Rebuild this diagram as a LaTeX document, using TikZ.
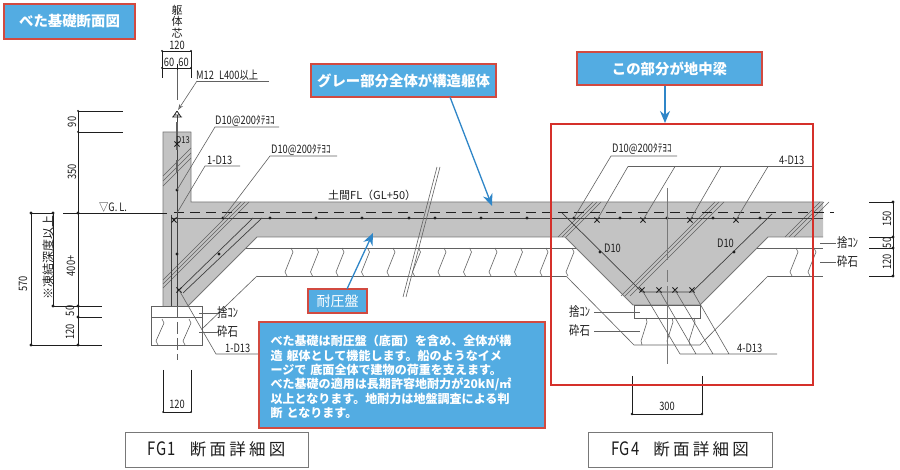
\documentclass[tikz,border=0pt]{standalone}
\usepackage{fontspec}
\setmainfont{Noto Sans CJK JP}
\newfontfamily\dw[FakeStretch=0.8]{Noto Sans CJK JP}
\usetikzlibrary{arrows.meta}
\definecolor{bluefill}{HTML}{53ACE2}
\definecolor{boxred}{HTML}{D24A40}
\definecolor{bigred}{HTML}{D5302A}
\definecolor{arrblue}{HTML}{2F86C8}
\definecolor{ink}{HTML}{1E1E1E}
\definecolor{concrete}{HTML}{C3C3C3}
\tikzset{
  x=1pt,y=-1pt,
  dl/.style={draw=ink,line width=.65pt},
  thin line/.style={draw=ink!70,line width=.6pt},
  outline/.style={draw=ink!60,line width=.85pt},
  rebar/.style={draw=ink!85,line width=.7pt},
  lab/.style={text=ink,inner sep=0pt,font=\dw\fontsize{11.6}{12}\selectfont},
  labs/.style={text=ink,inner sep=0pt,font=\dw\fontsize{13}{13}\selectfont},
  callout/.style={fill=bluefill,draw=boxred,line width=1.3pt,text=white,inner sep=0pt,font=\bfseries\fontsize{14.4}{15}\selectfont},
  titlebox/.style={draw=ink!60,line width=.7pt,fill=white,text=ink,inner sep=0pt,font=\fontsize{16.5}{18}\selectfont},
  bluearrow/.style={draw=arrblue,line width=1.3pt,-{Stealth[length=12pt,width=10pt]}},
}
\newcommand{\dotat}[2]{\fill[ink] (#1,#2) circle (1.6);}
\newcommand{\xmark}[2]{\draw[ink,line width=1pt] (#1-2.6,#2-2.6) -- (#1+2.6,#2+2.6) (#1-2.6,#2+2.6) -- (#1+2.6,#2-2.6);}
\newcommand{\grav}[3]{\draw[thin line] (#1-1,#2) -- (#1+1,#2+4) -- (#1-7,#3-4) -- (#1-5,#3);}
\newcommand{\fgtitle}[1]{{\dw\fontsize{18.5}{18}\selectfont\addfontfeature{LetterSpace=5}#1}\hspace{14pt}{\addfontfeature{LetterSpace=20}断面詳細図}}
\begin{document}
\begin{tikzpicture}
\useasboundingbox (0,0) rectangle (900,470);
\fill[white] (0,0) rectangle (900,470);

% concrete
\fill[concrete] (163,132) -- (191,132) -- (191,202) -- (823,202) -- (823,237) -- (768,237) -- (700,305) -- (633,305) -- (565,237) -- (257,237) -- (188,306) -- (163,306) -- cycle;
\draw[outline] (191,132) -- (191,202) -- (823,202) (823,237) -- (768,237) -- (700,305) -- (633,305) -- (565,237) -- (257,237) -- (188,306) (163,306) -- (163,132) -- (191,132);

% ground lines
\draw[thin line] (246,248) -- (576,248) (757,248) -- (823,248);
\draw[thin line] (257,276) -- (566,276) (768,276) -- (823,276);
\draw[thin line] (257,276) -- (202,329);
\draw[thin line] (566,276) -- (634,345) -- (700,345) -- (768,276);
\draw[thin line] (151,306) rectangle (202,345) (151,317) -- (202,317);
\draw[thin line] (634,305) rectangle (700,318);
\foreach \v in {292,317.5,343,368.5,394,419.5,445,470.5,496,521.5,547,573,797,815}{\grav{\v}{248}{276}}
\grav{163}{319}{345}\grav{190}{319}{345}
\draw[thin line] (646,318) -- (647,322) -- (641,341) -- (642,345) (672,318) -- (673,322) -- (667,341) -- (668,345) (694,318) -- (695,322) -- (689,341) -- (690,345);

% break lines in concrete
\foreach \s in {339,344,349}{\draw[thin line] (163,\s-163) -- (191,\s-191);}
\foreach \s in {443,447,451}{\draw[thin line] (163,\s-163) -- (\s-202,202);}
\foreach \s in {795,799,803}{\draw[thin line] (\s-237,237) -- (\s-202,202);}
\foreach \s in {917,921,926}{\draw[thin line] (\s-296,296) -- (\s-202,202);}
\foreach \s in {1022,1026}{\draw[thin line] (\s-237,237) -- (\s-202,202);}
\draw[thin line] (1031-237,237) -- (829,202);

% reinforcement
\draw[ink,line width=1pt,dash pattern=on 10pt off 6pt] (174,213) -- (834,213);
\draw[rebar] (172,218) -- (823,218);
\draw[rebar] (171,215) -- (171,306);
\draw[rebar] (177,115) -- (177,306);
\draw[ink!70,line width=2pt] (177,122) -- (177,150) (177,160) -- (177,172);
\draw[rebar] (179,290) -- (253,218);
\draw[rebar] (183,293) -- (262,218);
\draw[rebar] (562,213) -- (642,292) -- (692,292) -- (772,214);
\xmark{177}{144}\xmark{174}{220}\xmark{179}{290}
\foreach \v in {597,643,690,736}{\xmark{\v}{220}}
\foreach \v in {642,659,675,692}{\xmark{\v}{290}}
\foreach \v in {223,270,316,362,409,435,481,527,574,620,667,713,760}{\dotat{\v}{218}}
\dotat{177}{190}\dotat{177}{254}\dotat{219}{254}\dotat{600}{252}\dotat{734}{252}

% centre lines
\draw[thin line] (177,70) -- (177,100);
\draw[thin line,dash pattern=on 12pt off 4pt] (177,306) -- (177,360);
\draw[ink!60,line width=.9pt] (667,188) -- (667,260) (667,270) -- (667,282) (667,286) -- (667,364);

% anchor bolt
\draw[ink,line width=.7pt] (172,117) -- (182,117) (174,115) -- (180,115) (177,111) -- (173,117) (177,111) -- (181,117);

% dimensions, FG1
\draw[dl] (162,51) -- (191,51) (162,68) -- (191,68) (162,51) -- (162,78) (191,51) -- (191,78) (177,64) -- (177,70);
\foreach \a/\b in {162/51,191/51,162/68,191/68}{\fill[ink] (\a,\b) circle (1);}
\node[lab] (d120a) at (177,45) {120};
\node[lab] (d60a) at (169,62) {60};
\node[lab] (d60b) at (183.5,62) {60};
\node[lab,align=center,font=\fontsize{11}{11.6}\selectfont] (core) at (177,21.5) {躯\\体\\芯};

\draw[dl] (78,111) -- (123,111) (78,132) -- (123,132) (78,111) -- (78,345);
\draw[dl] (31,213) -- (53,213) (63,213) -- (167,213);
\draw[dl] (31,213) -- (31,345) (53,213) -- (53,306);
\draw[dl] (53,306) -- (102,306) (78,317) -- (102,317) (31,345) -- (102,345);
\foreach \a/\b in {31/213,53/213,78/213,53/306,78/306,78/317,31/345,78/345}{\dotat{\a}{\b}}
\fill[ink] (78,111) circle (1);\fill[ink] (78,132) circle (1);
\node[lab,rotate=90] (d90) at (72,122) {90};
\node[lab,rotate=90] (d350) at (72,172) {350};
\node[lab,rotate=90] (d400) at (71,266) {400+};
\node[lab,rotate=90] (d50) at (70,311) {50};
\node[lab,rotate=90] (d120b) at (70,332) {120};
\node[lab,rotate=90] (d570) at (23,284) {570};
\node[lab,rotate=90,font=\fontsize{12}{12}\selectfont] (frost) at (48,258) {※凍結深度以上};
\node[lab,anchor=west] (gl) at (99,208) {▽G.\hspace{2pt}L.};

\draw[dl] (163,370) -- (163,412) (191,370) -- (191,412) (163,412) -- (191,412);
\fill[ink] (163,412) circle (1);\fill[ink] (191,412) circle (1);
\node[lab] (d120c) at (177,404) {120};

% leaders, FG1
\draw[thin line] (269,81) -- (197,81);
\draw[thin line,-{Stealth[open,length=6pt,width=4pt]}] (197,81) -- (178,110);
\node[lab,anchor=west] (m12) at (196,75.5) {M12\hspace{5pt}L400以上};
\draw[thin line] (279,127) -- (215,127) -- (177,190);
\node[lab,anchor=west] (d10a) at (215,121) {D10@200ﾀﾃﾖｺ};
\draw[thin line] (240,166) -- (205,166) -- (177,213);
\node[lab,anchor=west] (one) at (207,160.5) {1-D13};
\draw[thin line] (337,156) -- (270,156) -- (223,218);
\node[lab,anchor=west] (d10b) at (271,150) {D10@200ﾀﾃﾖｺ};
\node[lab,font=\dw\fontsize{9.5}{10}\selectfont] (d13s) at (183,140) {D13};
\node[lab,anchor=west,font=\fontsize{11}{12}\selectfont] (fl) at (328,195) {土間FL（GL+50）};
\draw[thin line] (199,313) -- (217,313) (199,332) -- (217,332);
\node[labs,anchor=west] (sute) at (217,313) {捨ｺﾝ};
\node[labs,anchor=west] (gravel) at (217,332) {砕石};
\draw[thin line] (179,290) -- (216,354) -- (262,354);
\node[lab,anchor=west] (oneb) at (225,348) {1-D13};

% pavement break
\draw[thin line] (437,167) -- (403,297) (440,167) -- (406,297);

% FG4 leaders
\draw[thin line] (677,156) -- (611,156) -- (574,218);
\node[lab,anchor=west] (d10c) at (612,149) {D10@200ﾀﾃﾖｺ};
\draw[thin line] (812,166.5) -- (628,166.5) -- (597,220) (675,166.5) -- (643,220) (721,166.5) -- (690,220) (768,166.5) -- (736,220);
\node[lab,anchor=west] (fourt) at (779,160) {4-D13};
\node[lab,anchor=west] (d10l) at (604,248) {D10};
\node[lab,anchor=west] (d10r) at (717,243) {D10};
\draw[thin line] (594,312) -- (640,312) (594,331) -- (640,331);
\node[labs,anchor=west] (sutel) at (569,312) {捨ｺﾝ};
\node[labs,anchor=west] (gravell) at (569,331) {砕石};
\draw[thin line] (680,354) -- (777,354) (642,290) -- (680,354) (659,290) -- (696,354) (675,290) -- (713,354) (692,290) -- (729,354);
\node[lab,anchor=west] (fourb) at (737,348) {4-D13};

% FG4 right labels and dims
\draw[thin line] (820,243) -- (836,243) (820,262) -- (836,262);
\node[labs,anchor=west] (suter) at (837,243) {捨ｺﾝ};
\node[labs,anchor=west] (gravelr) at (837,262) {砕石};
\draw[dl] (869,202) -- (893,202) (869,237) -- (893,237) (869,248) -- (893,248) (869,276) -- (893,276) (893,202) -- (893,276);
\foreach \b in {202,237,248,276}{\dotat{893}{\b}}
\node[lab,rotate=90] (d150) at (887,219) {150};
\node[lab,rotate=90] (d50r) at (887,243) {50};
\node[lab,rotate=90] (d120r) at (887,262) {120};
\draw[dl] (632,376) -- (632,414) (702,376) -- (702,414) (632,414) -- (702,414);
\fill[ink] (632,414) circle (1.3);\fill[ink] (702,414) circle (1.3);
\node[lab] (d300) at (667,406) {300};

% highlight rectangle
\draw[bigred,line width=2pt] (551,124) rectangle (813,385);

% callouts
\node[callout,minimum width=131,minimum height=35] (title) at (69.5,21.5) {べた基礎断面図};
\node[callout,minimum width=185,minimum height=33] (gray) at (403.5,80.5) {グレー部分全体が構造躯体};
\node[callout,minimum width=185,minimum height=33] (beam) at (669.5,68.5) {この部分が地中梁};
\node[callout,minimum width=59,minimum height=24,font=\fontsize{14}{15}\selectfont] (slab) at (337.5,301) {耐圧盤};
\coordinate (grayfoot) at (450,97);
\coordinate (graytip) at (492,206);
\coordinate (slabfoot) at (347,289);
\coordinate (slabtip) at (373,233);
\coordinate (beamtip) at (665,123);
\draw[bluearrow] (grayfoot) -- (graytip);
\draw[bluearrow] (slabfoot) -- (slabtip);
\draw[bluearrow] (beam.south -| beamtip) -- (beamtip);
\node[callout,text width=263,inner xsep=11.5,minimum height=106,font=\bfseries\fontsize{12.05}{14.3}\selectfont,align=left] (note) at (402,375) {\rule{0pt}{14.6pt}べた基礎は耐圧盤（底面）を含め、全体が構\\造 躯体として機能します。船のようなイメ\\ージで 底面全体で建物の荷重を支えます。\\べた基礎の適用は長期許容地耐力が20kN/㎡\\以上となります。地耐力は地盤調査による判\\断 となります。};

% title boxes
\node[titlebox,minimum width=183,minimum height=35] (fgone) at (216.5,449.5) {\fgtitle{FG1}};
\node[titlebox,minimum width=184,minimum height=35] (fgfour) at (680,449.5) {\fgtitle{FG4}};
\end{tikzpicture}
\end{document}
